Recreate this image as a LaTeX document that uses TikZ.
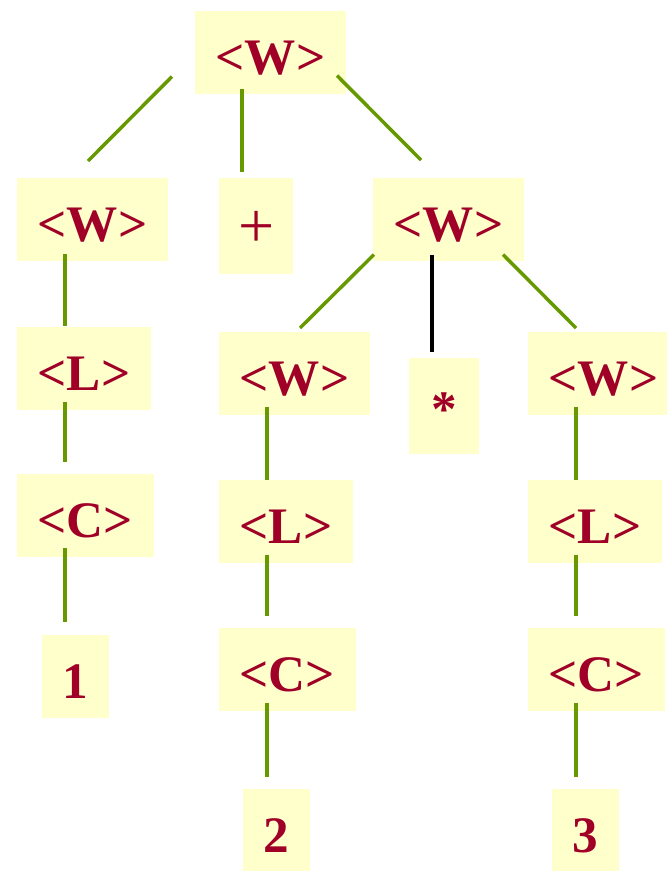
\documentclass[tikz,border=0pt]{standalone}
\usepackage{fontspec}
\setmainfont{Liberation Serif}
\usetikzlibrary{calc}

\definecolor{symred}{HTML}{A00028}
\definecolor{symfill}{HTML}{FFFFCC}
\definecolor{branchgreen}{HTML}{669900}

\begin{document}
\begin{tikzpicture}[x=0.75pt,y=0.75pt,
  tbox/.style={fill=symfill,text=symred,anchor=north west,inner xsep=15.4pt,inner ysep=6pt,
    font=\bfseries\fontsize{38.4pt}{46pt}\selectfont},
  sym/.style={tbox,text height=41.25pt,text depth=9pt},
  opsym/.style={tbox,minimum height=72pt},
  branch/.style={draw=branchgreen,line width=2.6pt}]
\useasboundingbox (0,0) rectangle (667,-871);
% Nonterminals
\node[sym] (root) at (195,-11) {<W>};
\node[sym] (w1) at (17,-178) {<W>};
\node[opsym,inner xsep=8pt,minimum width=55.5pt,text height=45.75pt,text depth=14.25pt,
  font=\mdseries\fontsize{48pt}{56pt}\selectfont] (plus) at (219,-178) {+};
\node[sym] (w2) at (373,-178) {<W>};
\node[sym] (l1) at (17,-327) {<L>};
\node[sym] (w3) at (219,-332) {<W>};
\node[opsym,minimum width=52.5pt,text height=45pt,text depth=15pt] (star) at (409,-358) {*};
\node[sym] (w4) at (528,-332) {<W>};
\node[sym] (c1) at (17,-474) {<C>};
\node[sym] (l2) at (219,-480) {<L>};
\node[sym] (l3) at (528,-480) {<L>};
\node[sym] (c2) at (219,-628) {<C>};
\node[sym] (c3) at (528,-628) {<C>};
% Digits
\node[sym] (one) at (42,-635) {1};
\node[sym] (two) at (243,-789) {2};
\node[sym] (three) at (552,-789) {3};
% Top level
\draw[branch] ($(root.south west)+(-23,18)$) -- ($(w1.north west)+(71,17)$);
\draw[branch] ($(root.south west)+(47,6)$) -- ($(plus.north west)+(23,6)$);
\draw[branch] ($(root.south west)+(142,19)$) -- ($(w2.north west)+(48,18)$);
% Left column
\draw[branch] ($(w1.south west)+(48,8)$) -- ($(l1.north west)+(48,1)$);
\draw[branch] ($(l1.south west)+(48,9)$) -- ($(c1.north west)+(48,12)$);
\draw[branch] ($(c1.south west)+(48,10)$) -- ($(one.north west)+(23,13)$);
% Right subtree
\draw[branch] ($(w2.south west)+(1,7)$) -- ($(w3.north west)+(81,4)$);
\draw[branch,draw=black] ($(w2.south west)+(59,7)$) -- ($(star.north west)+(23,6)$);
\draw[branch] ($(w2.south west)+(130,7)$) -- ($(w4.north west)+(48,4)$);
\draw[branch] ($(w3.south west)+(48,9)$) -- ($(l2.north west)+(48,0)$);
\draw[branch] ($(l2.south west)+(48,9)$) -- ($(c2.north west)+(48,12)$);
\draw[branch] ($(c2.south west)+(48,9)$) -- ($(two.north west)+(24,12)$);
\draw[branch] ($(w4.south west)+(48,9)$) -- ($(l3.north west)+(48,0)$);
\draw[branch] ($(l3.south west)+(48,9)$) -- ($(c3.north west)+(48,12)$);
\draw[branch] ($(c3.south west)+(48,9)$) -- ($(three.north west)+(24,12)$);
\end{tikzpicture}
\end{document}
